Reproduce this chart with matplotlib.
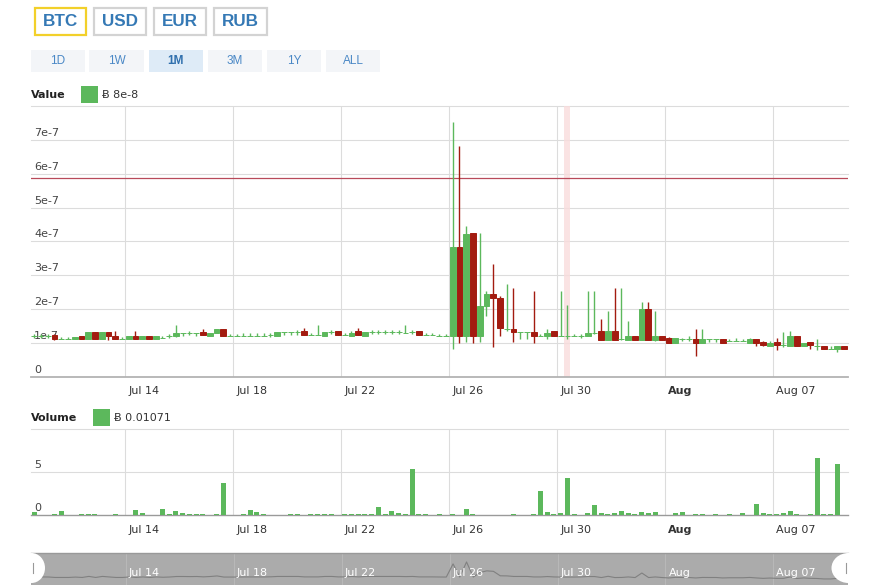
import matplotlib
matplotlib.use("Agg")
import matplotlib.pyplot as plt
import matplotlib.dates as mdates
import matplotlib.transforms as mtransforms
from matplotlib.patches import Rectangle, Ellipse
import numpy as np
import pandas as pd

plt.rcParams['font.family'] = ['DejaVu Sans']

# ---------------- data ----------------
currencies = ["BTC", "USD", "EUR", "RUB"]
selected_currency = "BTC"
periods = ["1D", "1W", "1M", "3M", "1Y", "ALL"]
selected_period = "1M"

first_candle = "2014-07-10 12:00"   # start of first 6-hour candle
candle_hours = 6
price_unit = 1e-7

opens = [1.20, 1.21, 1.20, 1.24, 1.11, 1.11, 1.11, 1.21, 1.11, 1.32,
         1.11, 1.32, 1.21, 1.11, 1.11, 1.21, 1.11, 1.21, 1.11, 1.15,
         1.20, 1.21, 1.30, 1.28, 1.30, 1.33, 1.19, 1.29, 1.41, 1.19,
         1.19, 1.21, 1.21, 1.21, 1.21, 1.24, 1.21, 1.31, 1.31, 1.31,
         1.34, 1.22, 1.22, 1.21, 1.31, 1.34, 1.22, 1.21, 1.34, 1.21,
         1.31, 1.31, 1.31, 1.31, 1.31, 1.28, 1.31, 1.34, 1.22, 1.22,
         1.20, 1.19, 1.19, 3.82, 1.19, 4.25, 1.19, 2.10, 2.43, 2.33,
         1.40, 1.41, 1.31, 1.31, 1.31, 1.21, 1.19, 1.34, 1.19, 1.19,
         1.19, 1.21, 1.19, 1.29, 1.34, 1.09, 1.34, 1.11, 1.09, 1.21,
         1.09, 2.00, 1.09, 1.21, 1.13, 1.01, 1.10, 1.10, 1.11, 1.01,
         1.10, 1.10, 1.11, 1.05, 1.05, 1.05, 1.01, 1.11, 1.03, 0.90,
         1.03, 0.93, 0.90, 1.21, 0.90, 1.03, 0.90, 0.92, 0.81, 0.81, 0.92]
highs = [1.26, 1.27, 1.26, 1.27, 1.18, 1.17, 1.18, 1.21, 1.32, 1.32,
         1.32, 1.32, 1.35, 1.17, 1.21, 1.35, 1.21, 1.21, 1.21, 1.21,
         1.26, 1.54, 1.30, 1.34, 1.30, 1.41, 1.30, 1.41, 1.41, 1.27,
         1.27, 1.30, 1.30, 1.30, 1.30, 1.30, 1.31, 1.31, 1.31, 1.37,
         1.45, 1.30, 1.54, 1.31, 1.37, 1.34, 1.30, 1.34, 1.45, 1.31,
         1.37, 1.37, 1.37, 1.37, 1.37, 1.54, 1.37, 1.34, 1.30, 1.30,
         1.27, 1.27, 7.54, 6.82, 4.45, 4.25, 4.24, 2.53, 3.32, 2.38,
         2.73, 2.63, 1.31, 1.31, 2.53, 1.27, 1.41, 1.34, 2.53, 2.13,
         1.25, 1.27, 2.53, 2.53, 1.71, 1.93, 2.63, 2.63, 1.64, 1.21,
         2.20, 2.20, 1.93, 1.21, 1.16, 1.13, 1.15, 1.20, 1.41, 1.41,
         1.10, 1.10, 1.11, 1.10, 1.15, 1.10, 1.15, 1.11, 1.06, 1.05,
         1.15, 1.31, 1.34, 1.21, 1.01, 1.03, 1.11, 0.92, 0.90, 0.92, 0.92]
lows = [1.14, 1.15, 1.15, 1.09, 1.11, 1.11, 1.11, 1.11, 1.11, 1.11,
        1.11, 1.09, 1.11, 1.11, 1.11, 1.11, 1.11, 1.11, 1.11, 1.15,
        1.15, 1.18, 1.21, 1.22, 1.21, 1.23, 1.19, 1.29, 1.19, 1.19,
        1.19, 1.21, 1.21, 1.21, 1.21, 1.18, 1.21, 1.22, 1.22, 1.24,
        1.22, 1.22, 1.22, 1.21, 1.25, 1.22, 1.22, 1.21, 1.22, 1.21,
        1.25, 1.25, 1.25, 1.25, 1.25, 1.28, 1.25, 1.22, 1.22, 1.22,
        1.20, 1.19, 0.82, 1.00, 1.04, 1.01, 1.04, 1.79, 0.89, 1.21,
        1.36, 1.04, 1.12, 1.12, 1.01, 1.21, 1.11, 1.21, 1.19, 1.11,
        1.19, 1.15, 1.19, 1.25, 1.09, 1.09, 1.09, 1.09, 1.09, 1.09,
        1.09, 1.09, 1.05, 1.09, 1.01, 1.01, 1.05, 1.05, 0.60, 1.01,
        1.03, 1.03, 1.01, 1.05, 1.05, 1.05, 1.01, 0.90, 0.90, 0.90,
        0.80, 0.88, 0.90, 0.90, 0.90, 0.82, 0.80, 0.81, 0.81, 0.73, 0.81]
closes = [1.20, 1.21, 1.20, 1.11, 1.11, 1.11, 1.18, 1.11, 1.32, 1.11,
          1.32, 1.21, 1.11, 1.11, 1.21, 1.11, 1.21, 1.11, 1.21, 1.15,
          1.20, 1.30, 1.30, 1.28, 1.30, 1.23, 1.30, 1.41, 1.19, 1.19,
          1.19, 1.21, 1.21, 1.21, 1.21, 1.24, 1.31, 1.31, 1.31, 1.31,
          1.22, 1.22, 1.22, 1.31, 1.31, 1.22, 1.22, 1.30, 1.22, 1.31,
          1.31, 1.31, 1.31, 1.31, 1.31, 1.28, 1.31, 1.22, 1.22, 1.22,
          1.20, 1.19, 3.82, 1.19, 4.21, 1.19, 2.10, 2.43, 2.33, 1.44,
          1.42, 1.31, 1.31, 1.31, 1.21, 1.21, 1.29, 1.21, 1.19, 1.19,
          1.19, 1.21, 1.29, 1.29, 1.09, 1.34, 1.09, 1.11, 1.21, 1.09,
          2.00, 1.09, 1.21, 1.09, 1.01, 1.13, 1.10, 1.10, 1.01, 1.11,
          1.10, 1.10, 1.01, 1.05, 1.05, 1.05, 1.11, 1.01, 0.93, 0.99,
          0.93, 0.93, 1.21, 0.90, 1.01, 0.93, 0.90, 0.81, 0.81, 0.92, 0.81]
volumes = [0.40, 0.05, 0.00, 0.10, 0.50, 0.00, 0.00, 0.10, 0.10, 0.10,
           0.05, 0.00, 0.10, 0.00, 0.00, 0.60, 0.30, 0.00, 0.00, 0.70,
           0.20, 0.50, 0.30, 0.10, 0.10, 0.10, 0.00, 0.20, 3.80, 0.00,
           0.00, 0.10, 0.60, 0.40, 0.10, 0.00, 0.00, 0.00, 0.10, 0.10,
           0.00, 0.15, 0.10, 0.10, 0.20, 0.00, 0.10, 0.10, 0.20, 0.10,
           0.20, 1.00, 0.20, 0.50, 0.30, 0.10, 5.40, 0.10, 0.10, 0.05,
           0.10, 0.00, 0.10, 0.00, 0.75, 0.10, 0.00, 0.00, 0.00, 0.00,
           0.00, 0.10, 0.00, 0.00, 0.10, 2.80, 0.35, 0.15, 0.30, 4.30,
           0.10, 0.00, 0.30, 1.20, 0.30, 0.20, 0.30, 0.50, 0.30, 0.15,
           0.35, 0.30, 0.35, 0.00, 0.00, 0.25, 0.35, 0.00, 0.15, 0.15,
           0.00, 0.10, 0.00, 0.10, 0.00, 0.25, 0.00, 1.30, 0.25, 0.15,
           0.15, 0.30, 0.50, 0.15, 0.00, 0.20, 6.70, 0.10, 0.10, 6.00, 0.00]

hover_index = 79            # candle under the crosshair
reference_level = 5.87      # horizontal marker line, in price units

price_ticks = [0, 1, 2, 3, 4, 5, 6, 7]
price_tick_labels = ["0", "1e-7", "2e-7", "3e-7", "4e-7", "5e-7", "6e-7", "7e-7"]
price_max = 8
volume_ticks = [0, 5]
volume_tick_labels = ["0", "5"]
volume_max = 10

date_ticks = ["2014-07-14", "2014-07-18", "2014-07-22", "2014-07-26",
              "2014-07-30", "2014-08-03", "2014-08-07"]
date_tick_labels = ["Jul 14", "Jul 18", "Jul 22", "Jul 26", "Jul 30", "Aug", "Aug 07"]
view_start = "2014-07-10 11:54"
view_end = "2014-08-09 18:10"

value_legend = "Ƀ 8e-8"
volume_legend = "Ƀ 0.01071"

# ---------------- style ----------------
GREEN = "#5cb85c"
RED = "#a31b10"
GRID = "#dcdcdc"
TEXT = "#444444"
BLUE = "#3579b5"

W, H = 873, 585
fig = plt.figure(figsize=(W / 100, H / 100), dpi=100)
fig.patch.set_facecolor("white")


def px_box(x0, y0, x1, y1):
    return [x0 / W, 1 - y1 / H, (x1 - x0) / W, (y1 - y0) / H]


ax = fig.add_axes(px_box(30.7, 106, 847.7, 376.7))
axv = fig.add_axes(px_box(30.7, 429.3, 847.7, 515.3))
axn = fig.add_axes(px_box(31.5, 553, 847.7, 585))
ov = fig.add_axes([0, 0, 1, 1])
ov.set_xlim(0, W)
ov.set_ylim(H, 0)
ov.axis("off")
ov.patch.set_visible(False)

starts = pd.date_range(first_candle, periods=len(opens), freq=f"{candle_hours}h")
centers = mdates.date2num((starts + pd.Timedelta(hours=candle_hours / 2)).to_pydatetime())
slot = candle_hours / 24.0
tick_x = mdates.date2num(pd.to_datetime(date_ticks).to_pydatetime())
x0 = mdates.date2num(pd.Timestamp(view_start).to_pydatetime())
x1 = mdates.date2num(pd.Timestamp(view_end).to_pydatetime())

for a in (ax, axv, axn):
    for s in a.spines.values():
        s.set_visible(False)
    a.set_xticks([])
    a.set_yticks([])
    a.set_xlim(x0, x1)

# ---------------- price panel ----------------
ax.set_ylim(0, price_max * price_unit)
for t in tick_x:
    ax.axvline(t, color=GRID, lw=0.8, zorder=1)
for v in range(1, price_max + 1):
    ax.axhline(v * price_unit, color=GRID, lw=0.8, zorder=1, clip_on=False)
ax.axhline(0, color="#b3b3b3", lw=1.3, zorder=2, clip_on=False)

ax.axvspan(centers[hover_index] - slot * 0.45, centers[hover_index] + slot * 0.45,
           color="#f9dcdc", alpha=0.8, lw=0, zorder=1.5)
ax.axhline(reference_level * price_unit, color="#b84a5a", lw=0.9, zorder=2)

ylab_tf = mtransforms.offset_copy(ax.get_yaxis_transform(), fig=fig, x=3.5, y=2, units="dots")
for v, lab in zip(price_ticks, price_tick_labels):
    ax.text(0, v * price_unit, lab, transform=ylab_tf, ha="left", va="bottom",
            fontsize=8, color=TEXT, zorder=2.5)

o = np.array(opens) * price_unit
h = np.array(highs) * price_unit
l = np.array(lows) * price_unit
c = np.array(closes) * price_unit
cols = np.where(c >= o, GREEN, RED)
ax.vlines(centers, l, h, colors=cols, lw=1.0, zorder=3)
ax.bar(centers, np.abs(c - o), bottom=np.minimum(o, c), width=slot * 0.86,
       color=cols, edgecolor=cols, linewidth=0.7, zorder=4)


def date_labels(a, color="#333333", dy=-14.5, weight_month=True):
    tf = mtransforms.offset_copy(a.get_xaxis_transform(), fig=fig, x=3, y=dy, units="dots")
    for t, lab in zip(tick_x, date_tick_labels):
        bold = weight_month and (len(lab) == 3)
        a.text(t, 0, lab, transform=tf, ha="left", va="center", fontsize=8,
               color=color, fontweight="bold" if bold else "normal", clip_on=False)


date_labels(ax)

# ---------------- volume panel ----------------
axv.set_ylim(0, volume_max)
for t in tick_x:
    axv.axvline(t, color=GRID, lw=0.8, zorder=1)
for v in (5, 10):
    axv.axhline(v, color=GRID, lw=0.8, zorder=1, clip_on=False)
axv.axhline(0, color="#9a9a9a", lw=1.0, zorder=2, clip_on=False)
vol = np.array(volumes)
mask = vol > 0
axv.bar(centers[mask], vol[mask], width=slot * 0.74, color=GREEN, lw=0, zorder=3)
vlab_tf = mtransforms.offset_copy(axv.get_yaxis_transform(), fig=fig, x=3.5, y=2, units="dots")
for v, lab in zip(volume_ticks, volume_tick_labels):
    axv.text(0, v, lab, transform=vlab_tf, ha="left", va="bottom", fontsize=8,
             color=TEXT, zorder=2.5)
date_labels(axv)

# ---------------- navigator ----------------
axn.set_facecolor("#ababab")
axn.set_ylim(-0.4, 6.0)
for t in tick_x:
    axn.axvline(t, color="#b8b8b8", lw=0.8, zorder=1)
axn.axhline(6.0, color="#999999", lw=1.0, clip_on=False, zorder=2)
axn.plot(centers, closes, color="#808080", lw=0.8, zorder=2)
date_labels(axn, color="white", dy=11.5, weight_month=False)

# handles of the navigator
ov.add_patch(Ellipse((31.5, 568), 27, 30, fc="white", ec="none", zorder=5))
ov.plot([33, 33], [563, 573], color="#999999", lw=0.8, zorder=6)
ov.add_patch(Ellipse((848.5, 568), 34, 30, fc="white", ec="none", zorder=5))
ov.plot([845.5, 845.5], [563, 573], color="#999999", lw=0.8, zorder=6)

# ---------------- currency and range buttons ----------------
cur_spans = [(35, 86), (94.3, 145.7), (154.3, 205.7), (214.3, 266.7)]
for lab, (bx0, bx1) in zip(currencies, cur_spans):
    sel = lab == selected_currency
    ov.add_patch(Rectangle((bx0, 7.5), bx1 - bx0, 27.5, fc="white",
                           ec="#f2d02a" if sel else "#d3d3d3", lw=1.6))
    ov.text((bx0 + bx1) / 2, 21.5, lab, ha="center", va="center", fontsize=12.3,
            fontweight="bold", color=BLUE, family=["Liberation Sans", "DejaVu Sans"])

per_spans = [(30.7, 85), (89.3, 144), (149, 202.7), (208, 262.3), (267.3, 321), (326, 380)]
for lab, (bx0, bx1) in zip(periods, per_spans):
    sel = lab == selected_period
    ov.add_patch(Rectangle((bx0, 50), bx1 - bx0, 21.7, fc="#deebf7" if sel else "#f3f5f8",
                           ec="none"))
    ov.text((bx0 + bx1) / 2, 61, lab, ha="center", va="center", fontsize=8.5,
            fontweight="bold" if sel else "normal",
            color="#2f6fad" if sel else "#4a88c6", family=["Liberation Sans", "DejaVu Sans"])

# ---------------- panel legends ----------------
ov.text(30.7, 94.7, "Value", ha="left", va="center", fontsize=8, fontweight="bold", color="#222222")
ov.add_patch(Rectangle((81, 86.3), 16.7, 16.3, fc=GREEN, ec="none"))
ov.text(102, 95, value_legend, ha="left", va="center", fontsize=8, color="#333333")

ov.text(30.7, 418, "Volume", ha="left", va="center", fontsize=8, fontweight="bold", color="#222222")
ov.add_patch(Rectangle((93.3, 409.3), 16.7, 16.7, fc=GREEN, ec="none"))
ov.text(114, 418, volume_legend, ha="left", va="center", fontsize=8, color="#333333")

fig.savefig("out.png", dpi=100)
